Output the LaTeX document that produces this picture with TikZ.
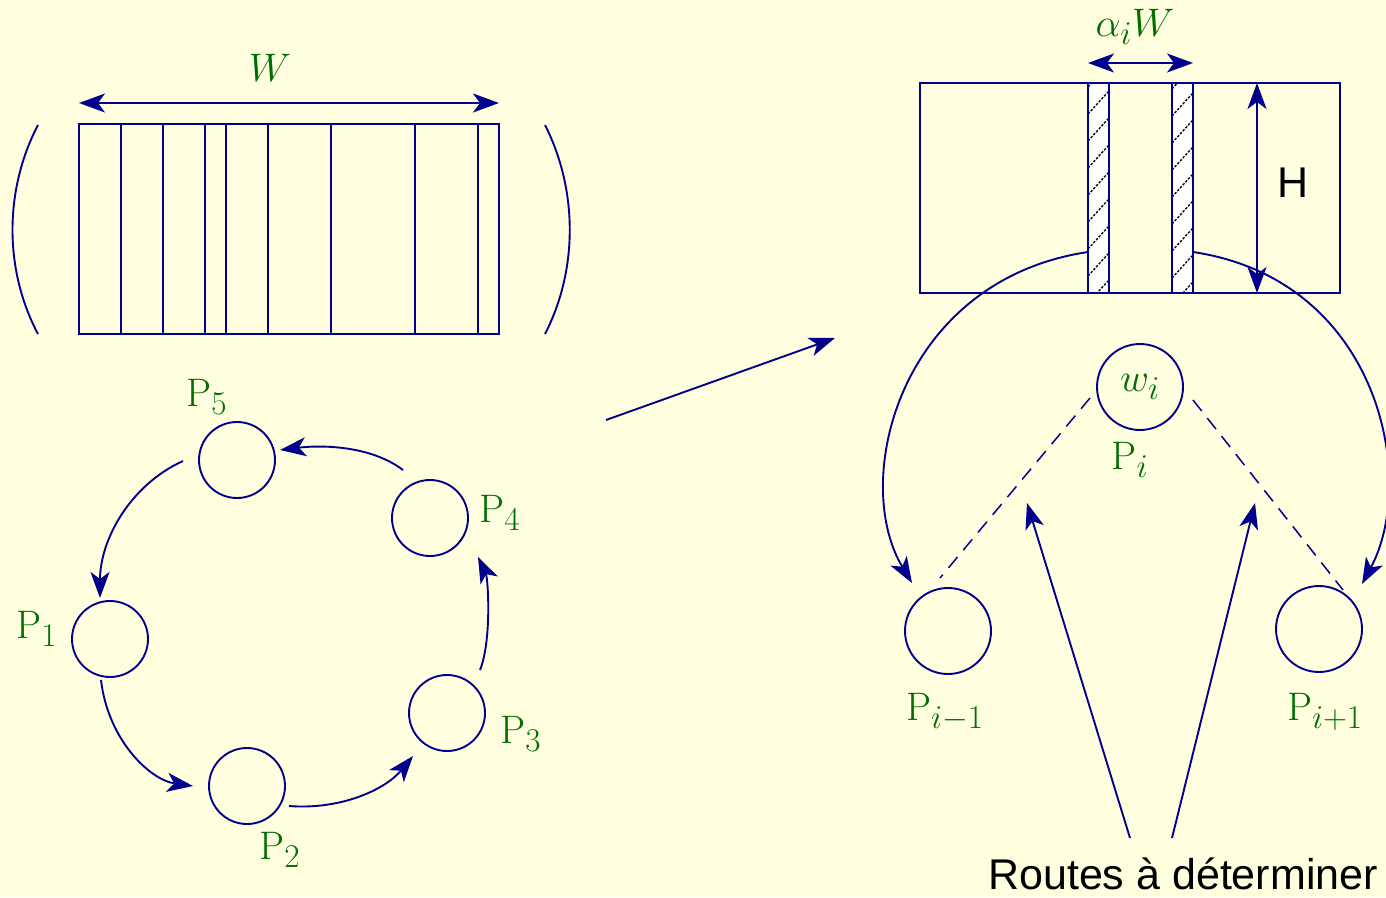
\documentclass[tikz,border=0pt]{standalone}
\usepackage{fontspec}
\usetikzlibrary{arrows.meta,calc}
\newfontfamily\arialf{Liberation Sans}
\definecolor{bgc}{RGB}{255,255,224}
\definecolor{lnc}{RGB}{0,0,140}
\definecolor{grc}{RGB}{0,110,0}
\tikzset{
  ln/.style={draw=lnc, line width=1.9pt},
  tip/.tip={Stealth[length=26pt,width=19pt,inset=7pt]},
  arr/.style={ln, -tip},
  darr/.style={ln, tip-tip},
  proc/.style={circle, ln, minimum size=76pt, inner sep=0pt},
  bigproc/.style={circle, ln, minimum size=86pt, inner sep=0pt},
  lab/.style={text=grc, inner sep=0pt, scale=1.6, font=\fontsize{24.88}{30}\selectfont},
  sanslab/.style={text=black, inner sep=0pt, font=\arialf\fontsize{43}{52}\selectfont},
  hatchline/.style={draw=black, line width=1.3pt, dash pattern=on 2.5pt off 1.5pt},
  dashline/.style={ln, line width=1.5pt, dash pattern=on 14pt off 9pt}
}
\begin{document}
\begin{tikzpicture}[x=1pt,y=-1pt]
\fill[bgc] (0,0) rectangle (1386,897);
\useasboundingbox (0,0) rectangle (1386,897);

% ---------- left packing rectangle ----------
\draw[ln] (79,124) rectangle (499,334);
\foreach \x in {121,163,205,226,268,331,415,478}
  \draw[ln] (\x,124) -- (\x,334);
\draw[ln] (38,125) .. controls (4,190) and (4,270) .. (38,334);
\draw[ln] (545,125) .. controls (578,190) and (578,270) .. (545,334);
\coordinate (wl) at (79,103);
\coordinate (wr) at (499,103);
\draw[darr] (wl) -- (wr);
\node[lab] (wlab) at (270,68) {$W$};

% ---------- ring of processors ----------
\node[proc] (p5) at (237,460) {};
\node[proc] (p4) at (430,518) {};
\node[proc] (p1) at (110,639) {};
\node[proc] (p3) at (447,713) {};
\node[proc] (p2) at (247,786) {};
\node[lab] at (207,397) {$\mathrm{P}_5$};
\node[lab] at (500,513) {$\mathrm{P}_4$};
\node[lab] at (37,629) {$\mathrm{P}_1$};
\node[lab] at (521,734) {$\mathrm{P}_3$};
\node[lab] at (280,850) {$\mathrm{P}_2$};

\draw[arr] ($(p5)+(-54,1)$) .. controls ($(p5)+(-107,25)$) and ($(p1)+(-10,-99)$) .. ($(p1)+(-10,-41)$);
\draw[arr] ($(p1)+(-9,41)$) .. controls ($(p1)+(-2,101)$) and ($(p2)+(-97,-6)$) .. ($(p2)+(-54,0)$);
\draw[arr] ($(p2)+(42,20)$) .. controls ($(p2)+(93,24)$) and ($(p3)+(-62,77)$) .. ($(p3)+(-34,43)$);
\draw[arr] ($(p3)+(33,-43)$) .. controls ($(p3)+(45,-73)$) and ($(p4)+(58,60)$) .. ($(p4)+(48,39)$);
\draw[arr] ($(p4)+(-27,-48)$) .. controls ($(p4)+(-60,-73)$) and ($(p5)+(83,-15)$) .. ($(p5)+(43,-10)$);

% ---------- middle arrow ----------
\coordinate (ma) at (606,420);
\coordinate (mb) at (835,338);
\draw[arr] (ma) -- (mb);

% ---------- right rectangle ----------
\draw[ln] (920,83) rectangle (1340,293);
\filldraw[ln, fill=white] (1088,83) rectangle (1109,293);
\filldraw[ln, fill=white] (1172,83) rectangle (1193,293);
\begin{scope}
  \clip (1088.8,83.8) rectangle (1108.2,292.2);
  \foreach \y in {87,114,...,330} \draw[hatchline] (1088,\y) -- ++(30,-33);
\end{scope}
\begin{scope}
  \clip (1172.8,83.8) rectangle (1192.2,292.2);
  \foreach \y in {89,116,...,330} \draw[hatchline] (1172,\y) -- ++(30,-33);
\end{scope}
\draw[ln] (1088,83) rectangle (1109,293);
\draw[ln] (1172,83) rectangle (1193,293);
\coordinate (al) at (1088,63);
\coordinate (ar) at (1193,63);
\draw[darr] (al) -- (ar);
\node[lab] at (1135,27) {$\alpha_i W$};
\coordinate (ht) at (1257,83);
\coordinate (hb) at (1257,293);
\draw[darr] (ht) -- (hb);
\node[sanslab] at (1293,183) {H};

% ---------- right processors ----------
\node[bigproc] (pi) at (1140,387) {};
\node[lab] (wi) at (pi) {$w_i$};
\node[bigproc] (pim) at (948,631) {};
\node[bigproc] (pip) at (1319,629) {};
\node[lab] at (1130,460) {$\mathrm{P}_i$};
\node[lab] at (945,712) {$\mathrm{P}_{i-1}$};
\node[lab] at (1325,712) {$\mathrm{P}_{i+1}$};

\coordinate (sl) at (1088,252);
\coordinate (sr) at (1193,252);
\draw[arr] (sl) .. controls (900,280) and (850,480) .. ($(pim)+(-36,-48)$);
\draw[arr] (sr) .. controls (1380,280) and (1418,480) .. ($(pip)+(43,-45)$);

\draw[dashline] ($(pi)+(-50,11)$) -- ($(pim)+(-8,-53)$);
\draw[dashline] ($(pi)+(53,13)$) -- ($(pip)+(24,-39)$);

% ---------- routes ----------
\node[sanslab] (routes) at (1183,874) {Routes à déterminer};
\coordinate (r1) at (1130,838);
\coordinate (r2) at (1172,838);
\coordinate (t1) at (1027,503);
\coordinate (t2) at (1255,503);
\draw[arr] (r1) -- (t1);
\draw[arr] (r2) -- (t2);
\end{tikzpicture}
\end{document}
